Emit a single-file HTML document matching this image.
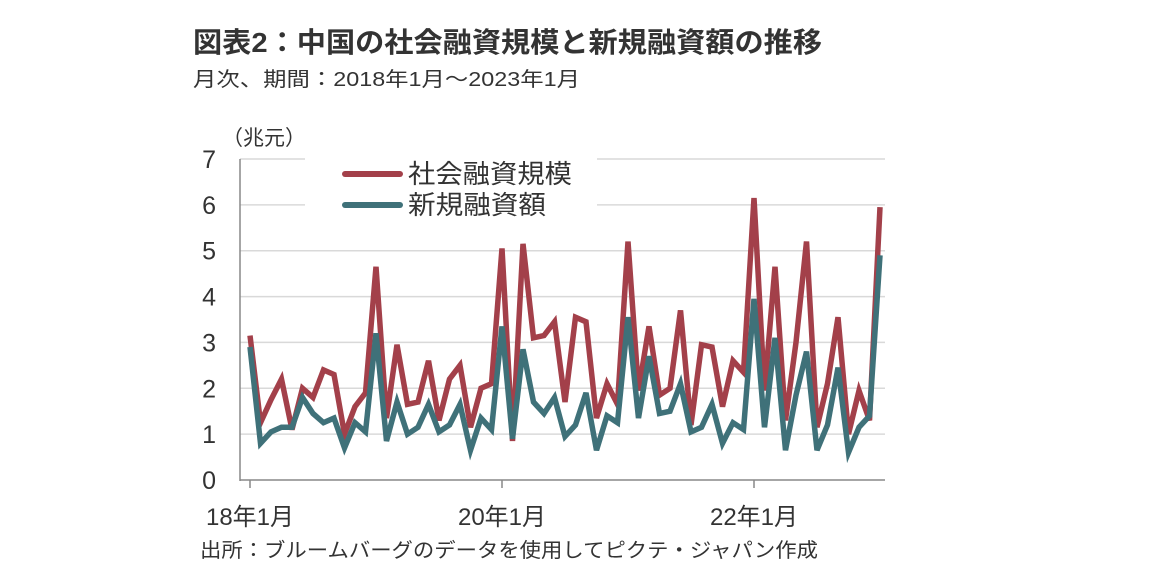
<!DOCTYPE html>
<html><head><meta charset="utf-8"><style>
body{margin:0;background:#fff;}
svg text{font-family:"Liberation Sans","Noto Sans CJK JP",sans-serif;fill:#333;}
</style></head><body>
<svg width="1152" height="580" viewBox="0 0 1152 580">
<text x="193" y="52" font-size="28" font-weight="bold" fill="#222" textLength="629" lengthAdjust="spacingAndGlyphs">図表2：中国の社会融資規模と新規融資額の推移</text>
<text x="193" y="86" font-size="20" fill="#444" textLength="387" lengthAdjust="spacingAndGlyphs">月次、期間：2018年1月～2023年1月</text>
<text x="222" y="145" font-size="21">（兆元）</text>
<g id="grid"></g>
<g id="yt"></g>
<line x1="240" y1="159" x2="240" y2="481" stroke="#888" stroke-width="1.5"/>
<line x1="240" y1="480" x2="885" y2="480" stroke="#888" stroke-width="1.5"/>
<g id="xt"></g>
<rect x="305" y="150" width="292" height="70" fill="#fff"/>
<g id="series"></g>
<g>
<line x1="345" y1="174" x2="400" y2="174" stroke="#a3404a" stroke-width="6" stroke-linecap="round"/>
<text x="408" y="183" font-size="26" textLength="164" lengthAdjust="spacingAndGlyphs">社会融資規模</text>
<line x1="345" y1="205" x2="400" y2="205" stroke="#3f7179" stroke-width="6" stroke-linecap="round"/>
<text x="408" y="214" font-size="26" textLength="138" lengthAdjust="spacingAndGlyphs">新規融資額</text>
</g>
<text x="200" y="557" font-size="20" textLength="618" lengthAdjust="spacingAndGlyphs">出所：ブルームバーグのデータを使用してピクテ・ジャパン作成</text>
</svg>
<script>
const tsf=[3.15,1.25,1.75,2.2,1.1,2.0,1.8,2.4,2.3,1.0,1.6,1.9,4.65,1.35,2.95,1.65,1.7,2.6,1.3,2.2,2.5,1.15,2.0,2.1,5.05,0.85,5.15,3.1,3.15,3.45,1.7,3.55,3.45,1.35,2.1,1.65,5.2,1.95,3.35,1.85,2.0,3.7,1.2,2.95,2.9,1.6,2.6,2.35,6.15,1.95,4.65,1.3,3.0,5.2,1.15,2.1,3.55,1.0,1.95,1.3,5.95];
const loans=[2.9,0.8,1.05,1.15,1.15,1.8,1.45,1.25,1.35,0.7,1.25,1.05,3.2,0.85,1.7,1.0,1.15,1.65,1.05,1.2,1.65,0.65,1.35,1.1,3.35,0.9,2.85,1.7,1.45,1.8,0.95,1.2,1.9,0.65,1.4,1.25,3.55,1.35,2.7,1.45,1.5,2.1,1.05,1.15,1.65,0.8,1.25,1.1,3.95,1.15,3.1,0.65,1.85,2.8,0.65,1.2,2.45,0.6,1.15,1.4,4.9];
const yTicks=[0,1,2,3,4,5,6,7];
const xLabels=[[0,"18年1月"],[24,"20年1月"],[48,"22年1月"]];
const NS="http://www.w3.org/2000/svg";
const X=i=>250+i*(630/60), Y=v=>480-v*(321/7);
const grid=document.getElementById('grid'),yt=document.getElementById('yt'),xt=document.getElementById('xt'),ser=document.getElementById('series');
yTicks.forEach(t=>{
 if(t>0){const l=document.createElementNS(NS,'line');
 l.setAttribute('x1',240);l.setAttribute('x2',885);l.setAttribute('y1',Y(t));l.setAttribute('y2',Y(t));
 l.setAttribute('stroke','#d9d9d9');l.setAttribute('stroke-width','1.5');
 
 
 grid.appendChild(l);}
 const s=document.createElementNS(NS,'text');
 s.setAttribute('x',216);s.setAttribute('y',Y(t)+9);s.setAttribute('font-size','25');s.setAttribute('text-anchor','end');
 s.textContent=t;
 
 
 yt.appendChild(s);
});
xLabels.forEach(([i,lab])=>{
 const l=document.createElementNS(NS,'line');
 l.setAttribute('x1',X(i));l.setAttribute('x2',X(i));l.setAttribute('y1',480);l.setAttribute('y2',488);
 l.setAttribute('stroke','#888');l.setAttribute('stroke-width','1.5');
 
 
 xt.appendChild(l);
 const s=document.createElementNS(NS,'text');
 s.setAttribute('x',X(i));s.setAttribute('y',525);s.setAttribute('font-size','24');s.setAttribute('text-anchor','middle');
 s.textContent=lab;
 
 
 xt.appendChild(s);
});
[[tsf,'#a3404a','tsf-line'],[loans,'#3f7179','new-loans-line']].forEach(([d,c,n])=>{
 const p=document.createElementNS(NS,'polyline');
 p.setAttribute('points',d.map((v,i)=>X(i)+','+Y(v)).join(' '));
 p.setAttribute('fill','none');p.setAttribute('stroke',c);p.setAttribute('stroke-width','5.5');p.setAttribute('stroke-linejoin','miter');
 
 
 ser.appendChild(p);
});
</script>
</body></html>
